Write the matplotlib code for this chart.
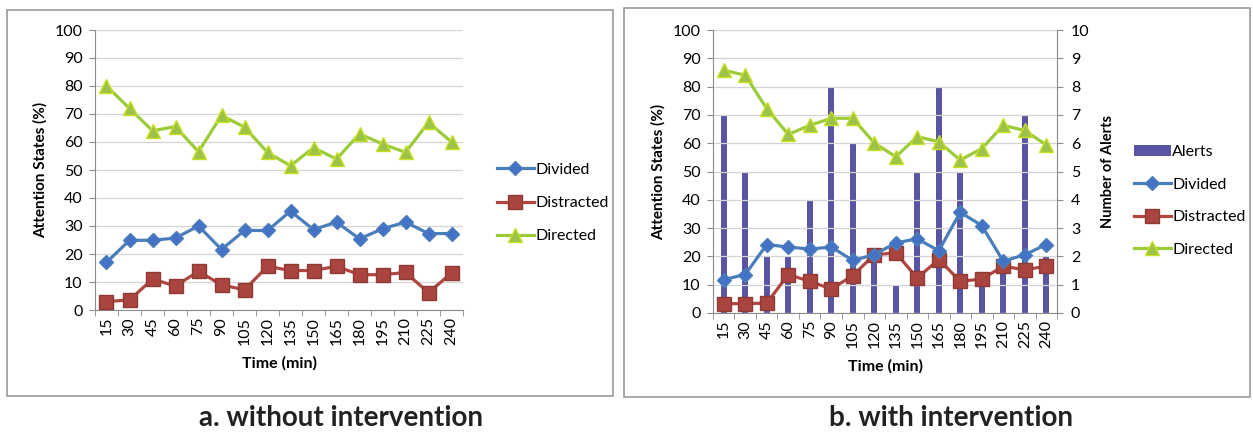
import matplotlib
matplotlib.use("Agg")
import matplotlib.pyplot as plt
from matplotlib.patches import Rectangle

plt.rcParams['font.family'] = ['Lato', 'DejaVu Sans']

times = [15, 30, 45, 60, 75, 90, 105, 120, 135, 150, 165, 180, 195, 210, 225, 240]

# a. without intervention
divided_a = [17, 24.9, 24.9, 25.7, 30, 21.6, 28.4, 28.4, 35.3, 28.7, 31.4, 25.4, 29, 31.4, 27.3, 27.3]
distracted_a = [3, 3.6, 11, 8.6, 13.8, 9, 7.2, 15.6, 14.1, 14.1, 15.6, 12.6, 12.6, 13.4, 6.2, 13.2]
directed_a = [80, 72, 64, 65.5, 56.5, 69.5, 65.3, 56.3, 51.5, 58, 53.9, 62.9, 59.3, 56.3, 67, 60]

# b. with intervention
alerts_b = [7, 5, 2, 2, 4, 8, 6, 2, 1, 5, 8, 5, 1, 2, 7, 2]
divided_b = [11.8, 13.6, 24.2, 23.3, 22.6, 23.3, 18.6, 20.6, 24.8, 26.2, 22, 35.6, 30.9, 18.3, 20.6, 24.2]
distracted_b = [3.3, 3.3, 3.5, 13.6, 11.2, 8.5, 13.2, 20.6, 21.2, 12.4, 18.9, 11.2, 12, 16.5, 15.3, 16.5]
directed_b = [85.8, 84, 72.2, 63.1, 66.3, 68.8, 68.8, 60.1, 55.2, 62.3, 60.5, 54, 58.1, 66.3, 64.5, 59.4]

W, H = 1253, 432
fig = plt.figure(figsize=(W / 100, H / 100), dpi=100)


def px(x0, y0, x1, y1):
    # pixel box (top-left origin) -> figure fraction rect
    return [x0 / W, 1 - y1 / H, (x1 - x0) / W, (y1 - y0) / H]


for x0, y0, x1, y1 in [(7, 10, 613, 396), (624, 8, 1250, 397)]:
    fig.patches.append(Rectangle((x0 / W, 1 - y1 / H), (x1 - x0) / W, (y1 - y0) / H,
                                 transform=fig.transFigure, fill=False,
                                 edgecolor='#9a9a9a', linewidth=1.2))

blue = '#4A7EBB'
red = '#B0463F'
green = '#9CCB3A'
bar_col = '#5A55A3'
grid_col = '#d4d4d4'
axis_col = '#8c8c8c'
tick_fs = 11.5
x = list(range(len(times)))


def style_axes(ax):
    ax.set_xlim(-0.5, len(times) - 0.5)
    ax.set_ylim(0, 100)
    ax.set_yticks(range(0, 101, 10))
    ax.set_xticks(x)
    ax.set_xticklabels([str(t) for t in times], rotation=90, fontsize=tick_fs)
    ax.tick_params(axis='y', labelsize=tick_fs, length=4, color=axis_col, pad=5)
    ax.tick_params(axis='x', length=0, pad=5)
    ax.set_xticks([i + 0.5 for i in range(-1, len(times))], minor=True)
    ax.tick_params(axis='x', which='minor', length=4, color=axis_col)
    ax.grid(axis='y', color=grid_col, linewidth=0.9)
    ax.set_axisbelow(True)
    for s in ['top', 'right']:
        ax.spines[s].set_visible(False)
    for s in ['left', 'bottom']:
        ax.spines[s].set_color(axis_col)
    ax.set_ylabel('Attention States (%)', fontsize=11, fontweight='bold', labelpad=5)
    ax.set_xlabel('Time (min)', fontsize=11.5, fontweight='bold', labelpad=8)


def draw_lines(ax, div, dis, dirc):
    h1, = ax.plot(x, div, color=blue, lw=2.3, marker='D', ms=7, mfc='#4472C4', mec=blue, label='Divided', zorder=4)
    h2, = ax.plot(x, dis, color=red, lw=2.3, marker='s', ms=10.5, mfc='#A9443E', mec='#8f3a35', label='Distracted', zorder=3)
    h3, = ax.plot(x, dirc, color=green, lw=2.3, marker='^', ms=10, mfc='#9CC24A', mec='#C8E020', label='Directed', zorder=5)
    return [h1, h2, h3]


# left chart
axa = fig.add_axes(px(95, 30, 463, 310))
style_axes(axa)
hs = draw_lines(axa, divided_a, distracted_a, directed_a)
fig.legend(hs, [h.get_label() for h in hs], loc='center left',
           bbox_to_anchor=(489 / W, 1 - 203 / H), frameon=False,
           fontsize=11.5, handlelength=2.3, handletextpad=0.1, labelspacing=1.2,
           borderpad=0)

# right chart
axb = fig.add_axes(px(713, 30, 1057, 313))
style_axes(axb)
axr = axb.twinx()
bars = axr.bar(x, alerts_b, width=0.28, color=bar_col, label='Alerts', zorder=1)
axr.set_ylim(0, 10)
axr.set_yticks(range(0, 11))
axr.tick_params(axis='y', labelsize=tick_fs, length=4, color=axis_col, pad=6)
axr.spines['right'].set_color(axis_col)
axr.spines['top'].set_visible(False)
axr.spines['left'].set_visible(False)
axr.spines['bottom'].set_visible(False)
axr.set_ylabel('Number of Alerts', fontsize=10.5, fontweight='bold', labelpad=8)
axr.patch.set_visible(True)
axr.patch.set_facecolor('white')
axr.set_zorder(0)
axb.set_zorder(1)
axb.patch.set_visible(False)
hsb = draw_lines(axb, divided_b, distracted_b, directed_b)
handles = [bars] + hsb
fig.legend(handles, ['Alerts'] + [h.get_label() for h in hsb], loc='center left',
           bbox_to_anchor=(1126 / W, 1 - 201 / H), frameon=False,
           fontsize=11.5, handlelength=2.3, handletextpad=0.1, labelspacing=1.15,
           borderpad=0)

fig.text(341 / W, 1 - 418 / H, 'a. without intervention', ha='center', va='center',
         fontsize=20, fontweight='bold', color='#222222')
fig.text(951 / W, 1 - 418 / H, 'b. with intervention', ha='center', va='center',
         fontsize=20, fontweight='bold', color='#222222')

fig.savefig('out.png', dpi=100)
